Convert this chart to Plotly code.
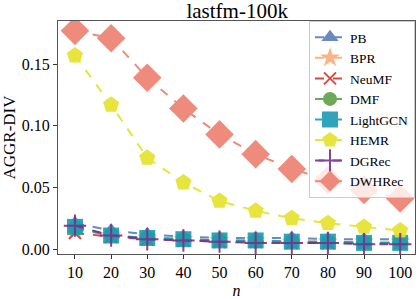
import plotly.graph_objects as go

n_values = [10, 20, 30, 40, 50, 60, 70, 80, 90, 100]
pb = [0.021, 0.015, 0.012, 0.010, 0.009, 0.009, 0.009, 0.008, 0.008, 0.008]
bpr = [0.016, 0.011, 0.009, 0.008, 0.007, 0.007, 0.006, 0.006, 0.006, 0.006]
neumf = [0.013, 0.010, 0.008, 0.007, 0.006, 0.006, 0.005, 0.005, 0.005, 0.005]
dmf = [0.017, 0.011, 0.009, 0.008, 0.007, 0.006, 0.006, 0.006, 0.005, 0.005]
lightgcn = [0.018, 0.011, 0.009, 0.008, 0.007, 0.007, 0.006, 0.006, 0.005, 0.005]
hemr = [0.157, 0.117, 0.074, 0.054, 0.039, 0.031, 0.025, 0.021, 0.018, 0.015]
dgrec = [0.019, 0.011, 0.008, 0.007, 0.006, 0.005, 0.005, 0.005, 0.004, 0.004]
dwhrec = [0.177, 0.171, 0.139, 0.114, 0.093, 0.077, 0.065, 0.056, 0.048, 0.041]

y_ticks = [0.00, 0.05, 0.10, 0.15]
y_tick_labels = ["0.00", "0.05", "0.10", "0.15"]

series = [
    ("PB", pb, "#5A7DB5", "triangle-up", 15),
    ("BPR", bpr, "#F9AE78", "star", 15),
    ("NeuMF", neumf, "#D9342B", "x-thin", 12),
    ("DMF", dmf, "#5BA144", "circle", 14),
    ("LightGCN", lightgcn, "#1A9CB3", "square", 16),
    ("HEMR", hemr, "#E5E22A", "pentagon", 17),
    ("DGRec", dgrec, "#7A2F8E", "cross-thin", 16),
    ("DWHRec", dwhrec, "#EE7F6E", "diamond", 22),
]

fig = go.Figure()
for name, vals, color, sym, size in series:
    thin = sym.endswith("-thin")
    fig.add_trace(go.Scatter(
        x=n_values, y=vals, name=name, mode="lines+markers",
        line=dict(color=color, width=2, dash="dash"),
        marker=dict(symbol=sym, size=size, color=color,
                    line=dict(color=color, width=2 if thin else 0)),
        opacity=0.9,
    ))

font_family = "Liberation Serif, Times New Roman, serif"
fig.update_layout(
    width=419, height=299,
    margin=dict(l=58, r=3, t=21, b=41),
    paper_bgcolor="white", plot_bgcolor="white",
    font=dict(family=font_family, size=14, color="black"),
    title=dict(text="lastfm-100k", x=0.566, xanchor="center", y=0.966, yanchor="middle",
               font=dict(family=font_family, size=21, color="black")),
    showlegend=True,
    legend=dict(x=1, y=1, xanchor="right", yanchor="top",
                bgcolor="rgba(255,255,255,0.8)", bordercolor="#cccccc", borderwidth=1,
                font=dict(family=font_family, size=13.5, color="black"),
                tracegroupgap=0, itemwidth=30),
    xaxis=dict(range=[5.3, 104.1], tickmode="array", tickvals=n_values,
               ticks="outside", ticklen=4, tickcolor="#333",
               showline=True, linecolor="#555", linewidth=1, mirror=True,
               showgrid=False, zeroline=False,
               title=dict(text="<i>n</i>", standoff=4, font=dict(size=16)),
               tickfont=dict(size=16)),
    yaxis=dict(range=[-0.004, 0.185], tickmode="array", tickvals=y_ticks,
               ticktext=y_tick_labels,
               ticks="outside", ticklen=4, tickcolor="#333",
               showline=True, linecolor="#555", linewidth=1, mirror=True,
               showgrid=False, zeroline=False,
               title=dict(text="AGGR-DIV", standoff=3, font=dict(size=17)),
               tickfont=dict(size=16)),
)

fig.write_html("out.html", config={"displayModeBar": False},
               post_script="document.body.style.margin='0';document.body.style.padding='0';")
